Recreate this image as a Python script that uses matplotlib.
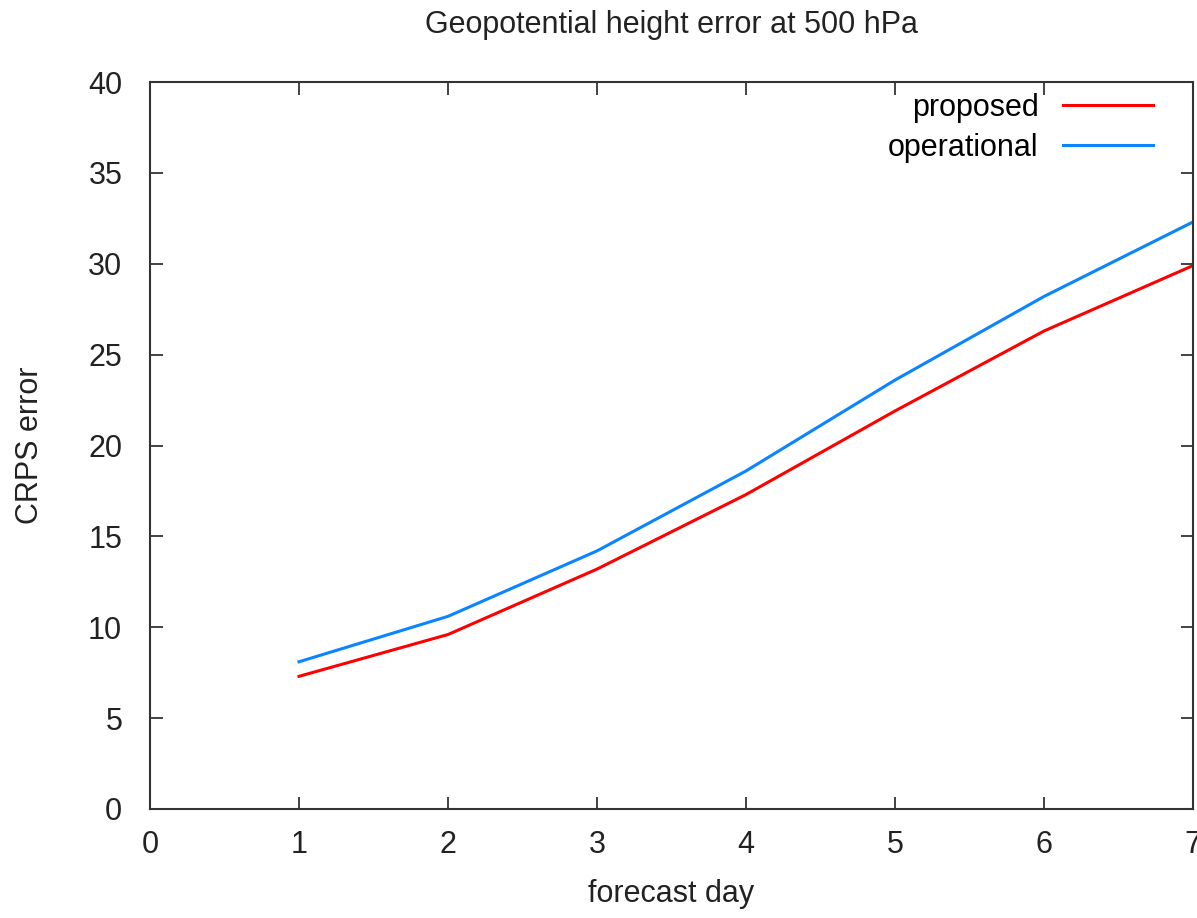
import matplotlib
matplotlib.use("Agg")
import matplotlib.pyplot as plt

days = [1, 2, 3, 4, 5, 6, 7]
proposed = [7.3, 9.6, 13.2, 17.3, 21.9, 26.3, 29.9]
operational = [8.1, 10.6, 14.2, 18.6, 23.6, 28.2, 32.3]

plt.rcParams['font.family'] = ['Liberation Sans', 'DejaVu Sans']
fs = 22

fig = plt.figure(figsize=(11.97, 9.18), dpi=100)
ax = fig.add_axes([150 / 1197, 109 / 918, 1043 / 1197, 727 / 918])

ax.plot(days, proposed, color="#ff0000", linewidth=2.2, label="proposed")
ax.plot(days, operational, color="#0a84ff", linewidth=2.2, label="operational")

ax.set_xlim(0, 7)
ax.set_ylim(0, 40)
ax.set_xticks(range(0, 8))
ax.set_yticks(range(0, 41, 5))
ax.tick_params(direction="in", length=9, width=1.2, top=True, right=True,
               labelsize=fs, colors="#222222")
ax.tick_params(axis="x", pad=15)
ax.tick_params(axis="y", pad=20)
for s in ax.spines.values():
    s.set_linewidth(1.5)
    s.set_color("#333333")

ax.set_title("Geopotential height error at 500 hPa", fontsize=fs, pad=35, color="#222222")
ax.set_xlabel("forecast day", fontsize=fs, labelpad=14, color="#222222")
ax.set_ylabel("CRPS error", fontsize=fs, labelpad=31, color="#222222")

ax.legend(loc="upper right", bbox_to_anchor=(0.9617, 0.985), frameon=False,
          markerfirst=False, fontsize=fs, handlelength=2.95, handletextpad=0.8,
          borderaxespad=0, borderpad=0, labelspacing=0.33)

fig.savefig("out.png", dpi=100)
